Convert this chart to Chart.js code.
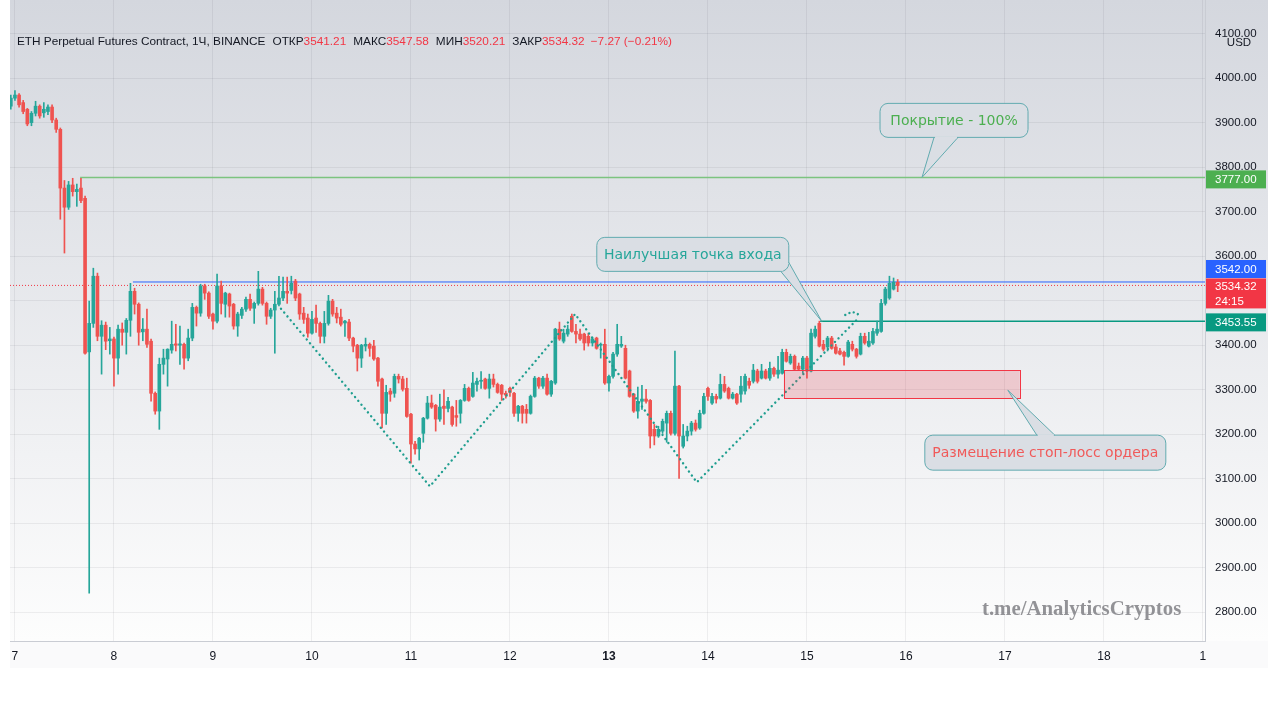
<!DOCTYPE html>
<html lang="ru">
<head>
  <meta charset="UTF-8">
  <title>ETH Perpetual Futures Contract, 1Ч, BINANCE</title>
  <script src="https://cdn.jsdelivr.net/npm/chart.js@4.4.0/dist/chart.umd.min.js"></script>
  <style>
    html, body { margin: 0; padding: 0; background: #fff; }
    #wrap { width: 1280px; height: 705px; }
    canvas { display: block; }
  </style>
</head>
<body>
<div id="wrap"><canvas id="ethChart" width="1280" height="705"></canvas></div>
<script>
  // hourly candles, hour 0 = Dec 7 00:00
  const firstHour = -1;
  const opens = [
    3937, 3955, 3962, 3945, 3930, 3900, 3921, 3937, 3922, 3925, 3935, 3906,
    3885, 3753, 3710, 3760, 3745, 3753, 3730, 3385, 3449, 3555, 3420, 3445,
    3410, 3414, 3371, 3436, 3429, 3456, 3521, 3492, 3430, 3436, 3409, 3292,
    3252, 3357, 3369, 3389, 3403, 3400, 3402, 3371, 3416, 3485, 3472, 3533,
    3517, 3470, 3454, 3533, 3492, 3515, 3492, 3443, 3467, 3481, 3503, 3483,
    3494, 3526, 3494, 3465, 3479, 3492, 3506, 3521, 3523, 3544, 3515, 3472,
    3461, 3427, 3461, 3449, 3420, 3449, 3499, 3472, 3463, 3450, 3452, 3416,
    3400, 3371, 3398, 3402, 3398, 3371, 3324, 3247, 3297, 3292, 3330, 3324,
    3303, 3245, 3178, 3167, 3202, 3236, 3270, 3265, 3234, 3263, 3258, 3261,
    3242, 3247, 3276, 3303, 3285, 3312, 3319, 3324, 3303, 3324, 3312, 3310,
    3292, 3303, 3292, 3247, 3263, 3256, 3247, 3285, 3326, 3308, 3326, 3290,
    3315, 3436, 3409, 3425, 3465, 3431, 3425, 3425, 3420, 3405, 3416, 3400,
    3402, 3315, 3330, 3380, 3398, 3393, 3342, 3290, 3252, 3274, 3279, 3276,
    3211, 3196, 3207, 3225, 3247, 3202, 3308, 3173, 3196, 3207, 3225, 3214,
    3247, 3303, 3270, 3285, 3281, 3312, 3303, 3281, 3290, 3290, 3297, 3319,
    3319, 3342, 3326, 3342, 3326, 3348, 3335, 3337, 3384, 3360, 3375, 3353,
    3346, 3371, 3342, 3420, 3449, 3402, 3396, 3416, 3396, 3387, 3384, 3375,
    3402, 3391, 3380, 3420, 3398, 3405, 3427, 3431, 3494, 3506, 3526, 3541.21
  ];
  const highs = [
    3962, 3972, 3965, 3950, 3932, 3925, 3948, 3940, 3945, 3940, 3940, 3910,
    3888, 3770, 3768, 3775, 3762, 3775, 3735, 3499, 3573, 3562, 3455, 3452,
    3440, 3418, 3445, 3450, 3460, 3539, 3528, 3495, 3460, 3481, 3414, 3295,
    3371, 3391, 3392, 3454, 3447, 3443, 3405, 3436, 3494, 3488, 3537, 3537,
    3520, 3472, 3560, 3544, 3519, 3517, 3494, 3474, 3485, 3508, 3515, 3497,
    3566, 3530, 3497, 3483, 3521, 3555, 3553, 3553, 3555, 3548, 3517, 3485,
    3470, 3476, 3490, 3452, 3476, 3512, 3503, 3485, 3481, 3456, 3458, 3418,
    3402, 3402, 3416, 3405, 3411, 3373, 3326, 3310, 3303, 3335, 3335, 3330,
    3326, 3247, 3184, 3193, 3238, 3285, 3288, 3267, 3290, 3300, 3283, 3263,
    3276, 3278, 3312, 3306, 3339, 3326, 3341, 3326, 3335, 3335, 3315, 3312,
    3297, 3306, 3294, 3265, 3265, 3267, 3288, 3330, 3328, 3330, 3335, 3321,
    3438, 3452, 3436, 3445, 3470, 3447, 3436, 3427, 3427, 3418, 3418, 3405,
    3436, 3333, 3384, 3447, 3420, 3400, 3344, 3292, 3306, 3310, 3301, 3278,
    3222, 3218, 3234, 3252, 3252, 3387, 3310, 3222, 3218, 3229, 3232, 3254,
    3292, 3306, 3292, 3290, 3335, 3330, 3306, 3294, 3292, 3330, 3335, 3326,
    3357, 3346, 3357, 3346, 3362, 3351, 3375, 3391, 3391, 3380, 3378, 3360,
    3375, 3375, 3436, 3443, 3454, 3411, 3420, 3420, 3402, 3393, 3387, 3411,
    3409, 3393, 3427, 3427, 3429, 3438, 3454, 3503, 3530, 3555, 3551, 3547.58
  ];
  const lows = [
    3930, 3950, 3935, 3920, 3893, 3893, 3915, 3910, 3912, 3918, 3900, 3878,
    3683, 3607, 3705, 3735, 3712, 3720, 3380, 2843, 3440, 3410, 3335, 3390,
    3380, 3308, 3335, 3400, 3380, 3420, 3470, 3400, 3410, 3395, 3274, 3245,
    3211, 3335, 3308, 3382, 3387, 3357, 3346, 3365, 3410, 3443, 3465, 3503,
    3460, 3436, 3450, 3470, 3463, 3463, 3436, 3420, 3460, 3476, 3478, 3449,
    3490, 3490, 3447, 3460, 3382, 3488, 3500, 3494, 3515, 3500, 3458, 3449,
    3418, 3425, 3429, 3405, 3405, 3445, 3465, 3450, 3443, 3420, 3410, 3385,
    3342, 3350, 3387, 3375, 3366, 3308, 3214, 3222, 3274, 3283, 3315, 3297,
    3238, 3135, 3155, 3142, 3182, 3234, 3258, 3207, 3229, 3222, 3250, 3218,
    3218, 3225, 3274, 3274, 3283, 3297, 3303, 3301, 3281, 3306, 3292, 3276,
    3281, 3285, 3240, 3229, 3225, 3225, 3245, 3283, 3303, 3303, 3288, 3285,
    3312, 3411, 3405, 3420, 3429, 3405, 3411, 3389, 3398, 3398, 3391, 3371,
    3312, 3297, 3326, 3375, 3395, 3324, 3283, 3249, 3236, 3256, 3270, 3169,
    3176, 3193, 3202, 3182, 3198, 3198, 3101, 3169, 3185, 3198, 3207, 3211,
    3245, 3276, 3267, 3270, 3279, 3294, 3279, 3279, 3267, 3272, 3290, 3303,
    3315, 3315, 3324, 3324, 3321, 3330, 3326, 3335, 3362, 3357, 3344, 3344,
    3337, 3326, 3340, 3416, 3396, 3387, 3387, 3391, 3380, 3378, 3355, 3373,
    3387, 3371, 3378, 3402, 3396, 3402, 3422, 3429, 3490, 3503, 3524, 3520.21
  ];
  const closes = [
    3955, 3962, 3940, 3925, 3897, 3921, 3937, 3915, 3930, 3935, 3906, 3885,
    3753, 3710, 3760, 3745, 3750, 3725, 3382, 3449, 3555, 3420, 3445, 3409,
    3414, 3371, 3436, 3429, 3456, 3521, 3492, 3429, 3436, 3402, 3292, 3252,
    3357, 3371, 3391, 3402, 3400, 3403, 3371, 3416, 3485, 3472, 3533, 3517,
    3465, 3454, 3533, 3494, 3517, 3488, 3443, 3470, 3481, 3503, 3483, 3494,
    3526, 3494, 3465, 3479, 3492, 3506, 3521, 3517, 3539, 3506, 3470, 3458,
    3427, 3458, 3449, 3420, 3449, 3499, 3470, 3461, 3447, 3454, 3416, 3398,
    3371, 3400, 3402, 3393, 3369, 3319, 3247, 3294, 3290, 3330, 3324, 3301,
    3240, 3178, 3167, 3191, 3236, 3270, 3261, 3234, 3261, 3258, 3274, 3222,
    3238, 3276, 3303, 3276, 3315, 3319, 3321, 3303, 3324, 3312, 3294, 3290,
    3288, 3294, 3247, 3263, 3247, 3247, 3285, 3326, 3308, 3326, 3290, 3319,
    3436, 3414, 3427, 3436, 3431, 3425, 3414, 3405, 3405, 3414, 3393, 3402,
    3315, 3330, 3380, 3402, 3402, 3326, 3285, 3252, 3274, 3279, 3274, 3196,
    3196, 3211, 3229, 3247, 3202, 3308, 3196, 3196, 3207, 3225, 3211, 3247,
    3285, 3285, 3285, 3279, 3312, 3297, 3281, 3290, 3270, 3308, 3330, 3310,
    3344, 3319, 3342, 3326, 3348, 3335, 3344, 3384, 3364, 3375, 3346, 3346,
    3371, 3342, 3427, 3436, 3398, 3391, 3416, 3393, 3382, 3380, 3375, 3407,
    3391, 3375, 3420, 3405, 3409, 3431, 3436, 3494, 3526, 3539, 3541.59, 3534.32
  ];

  const dayTicks = [0, 24, 48, 72, 96, 120, 144, 168, 192, 216, 240, 264, 288];
  const dayLabels = ['7', '8', '9', '10', '11', '12', '13', '14', '15', '16', '17', '18', '1'];
  const priceTicks = [2800, 2900, 3000, 3100, 3200, 3300, 3400, 3500, 3600, 3700, 3800, 3900, 4000, 4100];

  // drawings (hour, price)
  const patternHours = [64.5, 100.6, 135.8, 165.3, 204.6];
  const patternPrices = [3482, 3083, 3470, 3092, 3462];
  const hookHours = [201.3, 202.9, 204.2, 204.8];
  const hookPrices = [3468, 3474, 3471, 3462];
  const levelPrices = [3777, 3542, 3453.55];
  const levelFrom = [15.8, 28.6, 195.2];
  const stopHours = [186.4, 243.6];
  const stopPrices = [3281, 3344];
  const coverTip = [219.9, 3777];
  const entryTip = [195.6, 3453.55];
  const stopTip = [240.7, 3299];

  const upColor = '#26a69a';
  const downColor = '#ef5350';
  const gridColor = 'rgba(42, 46, 57, 0.07)';
  const last = closes.length - 1;
  const hours = opens.map((_, i) => firstHour + i);
  const candleColors = closes.map((c, i) => c >= opens[i] ? upColor : downColor);

  function roundBox(ctx, x, y, w, h, r) {
    ctx.moveTo(x + r, y);
    ctx.arcTo(x + w, y, x + w, y + h, r);
    ctx.arcTo(x + w, y + h, x, y + h, r);
    ctx.arcTo(x, y + h, x, y, r);
    ctx.arcTo(x, y, x + w, y, r);
    ctx.closePath();
  }

  function callout(ctx, box, tip, b1, b2, text, color) {
    const fill = '#dadee4';
    ctx.save();
    ctx.beginPath();
    roundBox(ctx, box.x, box.y, box.w, box.h, 8);
    ctx.moveTo(b1[0], b1[1]);
    ctx.lineTo(tip[0], tip[1]);
    ctx.lineTo(b2[0], b2[1]);
    ctx.closePath();
    ctx.fillStyle = fill;
    ctx.fill();
    ctx.strokeStyle = '#62abb0';
    ctx.lineWidth = 1;
    ctx.beginPath();
    roundBox(ctx, box.x, box.y, box.w, box.h, 8);
    ctx.stroke();
    ctx.beginPath();
    ctx.moveTo(b1[0], b1[1]);
    ctx.lineTo(tip[0], tip[1]);
    ctx.lineTo(b2[0], b2[1]);
    ctx.stroke();
    ctx.strokeStyle = fill;
    ctx.lineWidth = 2;
    const dx = b2[0] - b1[0], dy = b2[1] - b1[1];
    const len = Math.hypot(dx, dy);
    ctx.beginPath();
    ctx.moveTo(b1[0] + dx / len, b1[1] + dy / len);
    ctx.lineTo(b2[0] - dx / len, b2[1] - dy / len);
    ctx.stroke();
    ctx.font = '14px "DejaVu Sans"';
    ctx.fillStyle = color;
    ctx.textAlign = 'center';
    ctx.textBaseline = 'middle';
    ctx.fillText(text, box.x + box.w / 2, box.y + box.h / 2 + 1);
    ctx.restore();
  }

  function priceTag(ctx, left, yc, h, color, lines) {
    ctx.fillStyle = color;
    ctx.fillRect(left + 1, yc - h / 2, 60, h);
    ctx.fillStyle = '#fff';
    ctx.textAlign = 'left';
    ctx.textBaseline = 'middle';
    const step = h / lines.length;
    lines.forEach((t, i) => ctx.fillText(t, left + 10, yc - h / 2 + step * (i + 0.5) + 0.5));
  }

  const tvPlugin = {
    id: 'tv',
    beforeDraw(chart) {
      const { ctx, chartArea } = chart;
      const right = chart.scales.y.right;
      const g = ctx.createLinearGradient(0, chartArea.top, 0, chartArea.bottom);
      g.addColorStop(0, '#d4d7de');
      g.addColorStop(1, '#fdfdfd');
      ctx.save();
      ctx.fillStyle = g;
      ctx.fillRect(chartArea.left, chartArea.top, right - chartArea.left, chartArea.bottom - chartArea.top);
      ctx.fillStyle = '#fafafb';
      ctx.fillRect(chartArea.left, chartArea.bottom, right - chartArea.left, chart.scales.x.height);
      ctx.restore();
    },
    afterDatasetsDraw(chart) {
      const { ctx, scales: { x, y } } = chart;
      const x0 = x.getPixelForValue(stopHours[0]), x1 = x.getPixelForValue(stopHours[1]);
      const y0 = y.getPixelForValue(stopPrices[1]), y1 = y.getPixelForValue(stopPrices[0]);
      ctx.save();
      ctx.fillStyle = 'rgba(242, 54, 69, 0.2)';
      ctx.fillRect(x0, y0, x1 - x0, y1 - y0);
      ctx.strokeStyle = '#f23645';
      ctx.lineWidth = 1;
      ctx.strokeRect(Math.round(x0) + 0.5, Math.round(y0) + 0.5, Math.round(x1 - x0), Math.round(y1 - y0));
      ctx.restore();
    },
    afterDraw(chart) {
      const { ctx, chartArea, scales: { x, y } } = chart;
      ctx.save();

      // header line
      ctx.font = '11.8px "Liberation Sans"';
      ctx.textBaseline = 'middle';
      ctx.textAlign = 'left';
      const dark = '#131722', red = '#f23645';
      const prev = closes[last - 1];
      const chg = closes[last] - prev;
      const signed = v => (v < 0 ? '\u2212' : '+') + Math.abs(v).toFixed(2);
      const parts = [
        ['ETH Perpetual Futures Contract, 1Ч, BINANCE', dark, 7],
        ['ОТКР', dark, 0], [opens[last].toFixed(2), red, 7],
        ['МАКС', dark, 0], [highs[last].toFixed(2), red, 7],
        ['МИН', dark, 0], [lows[last].toFixed(2), red, 7],
        ['ЗАКР', dark, 0], [closes[last].toFixed(2), red, 6],
        [signed(chg) + ' (' + signed(chg / prev * 100) + '%)', red, 0]
      ];
      let hx = chartArea.left + 7;
      parts.forEach(([t, c, gap]) => {
        ctx.fillStyle = c;
        ctx.fillText(t, hx, 42);
        hx += ctx.measureText(t).width + gap;
      });

      // price axis tags
      ctx.font = '11.5px "Liberation Sans"';
      const ax = y.left;
      priceTag(ctx, ax, y.getPixelForValue(levelPrices[0]) + 2, 18, '#4caf50', [levelPrices[0].toFixed(2)]);
      priceTag(ctx, ax, y.getPixelForValue(levelPrices[1]) - 13, 18, '#2962ff', [levelPrices[1].toFixed(2)]);
      priceTag(ctx, ax, y.getPixelForValue(closes[last]) + 8, 30, red, [closes[last].toFixed(2), '24:15']);
      priceTag(ctx, ax, y.getPixelForValue(levelPrices[2]) + 1, 18, '#089981', [levelPrices[2].toFixed(2)]);

      // currency label over the top tick
      ctx.fillStyle = '#d7dae0';
      ctx.fillRect(ax + 19, 37, 30, 12);
      ctx.fillStyle = dark;
      ctx.font = '11.5px "Liberation Sans"';
      ctx.textAlign = 'center';
      ctx.fillText('USD', ax + 34, 43);

      // watermark
      ctx.font = 'bold 20.8px "Liberation Serif"';
      ctx.fillStyle = 'rgba(120, 120, 125, 0.8)';
      ctx.textAlign = 'left';
      ctx.fillText('t.me/AnalyticsCryptos', 982, 610);
      ctx.restore();

      // callouts
      let tx = x.getPixelForValue(coverTip[0]), ty = y.getPixelForValue(coverTip[1]);
      callout(ctx, { x: tx - 42, y: ty - 74, w: 148, h: 34 }, [tx, ty],
        [tx + 36, ty - 40], [tx + 12, ty - 40], 'Покрытие - 100%', '#4caf50');
      tx = x.getPixelForValue(entryTip[0]); ty = y.getPixelForValue(entryTip[1]);
      callout(ctx, { x: tx - 225, y: ty - 84, w: 192, h: 34 }, [tx, ty],
        [tx - 33, ty - 59], [tx - 41, ty - 50], 'Наилучшая точка входа', '#26a69a');
      tx = x.getPixelForValue(stopTip[0]); ty = y.getPixelForValue(stopTip[1]);
      callout(ctx, { x: tx - 83, y: ty + 45, w: 241, h: 35 }, [tx, ty],
        [tx + 29, ty + 45], [tx + 47, ty + 45], 'Размещение стоп-лосс ордера', '#f05a5a');
    }
  };

  const xMin = -1.2, xMax = 288.5;
  const lineColors = ['#7cc47f', '#2962ff', '#089981'];

  new Chart(document.getElementById('ethChart'), {
    type: 'bar',
    data: {
      datasets: [
        {
          type: 'line',
          data: patternHours.map((h, i) => ({ x: h, y: patternPrices[i] })),
          borderColor: '#1f9e8f', borderWidth: 2.4, borderDash: [0.01, 5], borderCapStyle: 'round',
          pointRadius: 0, fill: false, order: 0
        },
        {
          type: 'line',
          data: hookHours.map((h, i) => ({ x: h, y: hookPrices[i] })),
          borderColor: '#1f9e8f', borderWidth: 2.4, borderDash: [0.01, 4.5], borderCapStyle: 'round',
          pointRadius: 0, fill: false, tension: 0.3, order: 0
        },
        {
          data: hours.map((h, i) => ({ x: h, y: [opens[i], closes[i]] })),
          backgroundColor: candleColors, barThickness: 3, minBarLength: 1, grouped: false, order: 1
        },
        {
          data: hours.map((h, i) => ({ x: h, y: [lows[i], highs[i]] })),
          backgroundColor: candleColors, barThickness: 1, grouped: false, order: 2
        },
        ...levelPrices.map((p, i) => ({
          type: 'line',
          data: [{ x: levelFrom[i], y: p }, { x: xMax, y: p }],
          borderColor: lineColors[i], borderWidth: i === 1 ? 1 : 1.5,
          pointRadius: 0, fill: false, order: 3
        })),
        {
          type: 'line',
          data: [{ x: xMin, y: closes[last] }, { x: xMax, y: closes[last] }],
          borderColor: '#f23645', borderWidth: 1, borderDash: [1, 2],
          pointRadius: 0, fill: false, order: 4
        }
      ]
    },
    options: {
      responsive: false,
      animation: false,
      layout: { autoPadding: false, padding: { left: 10, right: 12, top: 0, bottom: 37 } },
      plugins: { legend: { display: false }, tooltip: { enabled: false } },
      scales: {
        x: {
          type: 'linear', min: xMin, max: xMax, offset: false,
          grid: { color: gridColor, drawTicks: false, offset: false },
          border: { color: '#c9ccd3' },
          afterBuildTicks: s => { s.ticks = dayTicks.map(v => ({ value: v })); },
          afterFit: s => { s.height = 27; s.paddingLeft = 0; s.paddingRight = 0; },
          ticks: {
            padding: 8, color: '#131722', maxRotation: 0, autoSkip: false,
            font: c => ({ size: 12, family: 'Liberation Sans', weight: c.tick && c.tick.value === 144 ? 'bold' : 'normal' }),
            callback: v => dayLabels[dayTicks.indexOf(v)]
          }
        },
        y: {
          position: 'right', min: 2735.5, max: 4175.5,
          grid: { color: gridColor, drawTicks: false },
          border: { color: '#c9ccd3' },
          afterBuildTicks: s => { s.ticks = priceTicks.map(v => ({ value: v })); },
          afterFit: s => { s.width = 63; s.paddingTop = 0; s.paddingBottom = 0; },
          ticks: {
            padding: 10, color: '#131722',
            font: { size: 11.5, family: 'Liberation Sans' },
            callback: v => v.toFixed(2)
          }
        }
      }
    },
    plugins: [tvPlugin]
  });
</script>
</body>
</html>
